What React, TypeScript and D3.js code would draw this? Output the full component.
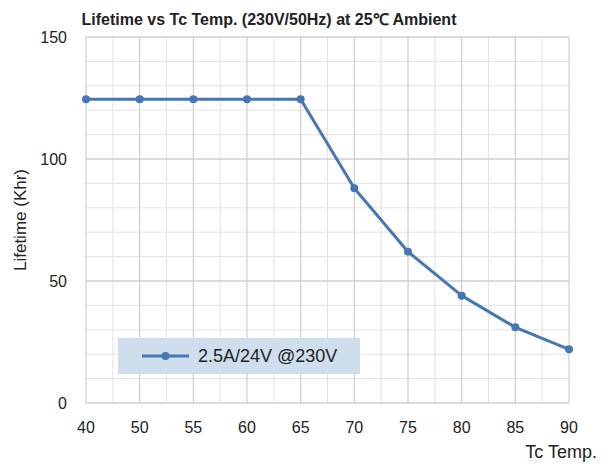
import React from "react";
import * as d3 from "d3";

const WIDTH = 608;
const HEIGHT = 464;
const MARGIN = { top: 37, right: 39, bottom: 61, left: 86 };

const temps = ["40", "50", "55", "60", "65", "70", "75", "80", "85", "90"];
const lifetime = [124.5, 124.5, 124.5, 124.5, 124.5, 88, 62, 44, 31, 22];
const yTicks = [0, 50, 100, 150];
const seriesName = "2.5A/24V @230V";

const LINE_COLOR = "#4677b3";
const FONT = "'Liberation Sans', Arial, sans-serif";

const App = () => {
  const innerW = WIDTH - MARGIN.left - MARGIN.right;
  const innerH = HEIGHT - MARGIN.top - MARGIN.bottom;

  const xScale = d3.scalePoint().domain(temps).range([0, innerW]);
  const yScale = d3.scaleLinear().domain([0, 150]).range([innerH, 0]);

  const step = xScale.step();
  const minorY = d3.range(0, 151, 10);
  const minorX = temps.slice(0, -1).map((t) => (xScale(t) ?? 0) + step / 2);

  const points = temps.map((t, i) => [xScale(t) ?? 0, yScale(lifetime[i])] as [number, number]);
  const linePath = d3.line()(points) || "";

  return (
    <svg width={WIDTH} height={HEIGHT} style={{ position: "absolute", left: 0, top: 0 }}>
      <rect width={WIDTH} height={HEIGHT} fill="#fff" />
      <text x={269} y={25} textAnchor="middle" fontFamily={FONT} fontWeight="bold" fontSize={16} fill="#222">
        Lifetime vs Tc Temp. (230V/50Hz) at 25℃ Ambient
      </text>
      <g transform={`translate(${MARGIN.left},${MARGIN.top})`}>
        {/* minor grid */}
        {minorY.map((v) => (
          <line key={"my" + v} x1={0} x2={innerW} y1={yScale(v)} y2={yScale(v)} stroke="#e3e3e3" strokeWidth={1} />
        ))}
        {minorX.map((x, i) => (
          <line key={"mx" + i} x1={x} x2={x} y1={0} y2={innerH} stroke="#e3e3e3" strokeWidth={1} />
        ))}
        {/* major grid */}
        {yTicks.map((v) => (
          <line key={"y" + v} x1={0} x2={innerW} y1={yScale(v)} y2={yScale(v)} stroke="#c6c6c6" strokeWidth={1} />
        ))}
        {temps.map((t) => (
          <line key={"x" + t} x1={xScale(t)} x2={xScale(t)} y1={0} y2={innerH} stroke="#c6c6c6" strokeWidth={1} />
        ))}
        {yTicks.map((v) => (
          <text key={"yl" + v} x={-19} y={yScale(v)} dy="0.35em" textAnchor="end" fontFamily={FONT} fontSize={16} fill="#222">
            {v}
          </text>
        ))}
        {temps.map((t) => (
          <text key={"xl" + t} x={xScale(t)} y={innerH + 30} textAnchor="middle" fontFamily={FONT} fontSize={16} fill="#222">
            {t}
          </text>
        ))}
        <path d={linePath} fill="none" stroke={LINE_COLOR} strokeWidth={3} strokeLinejoin="round" />
        {points.map((p, i) => (
          <circle key={i} cx={p[0]} cy={p[1]} r={4} fill={LINE_COLOR} />
        ))}
        {/* legend */}
        <g transform={`translate(${118 - MARGIN.left},${338 - MARGIN.top})`}>
          <rect width={242} height={36} fill="#cfdeec" />
          <line x1={24} x2={71} y1={18} y2={18} stroke={LINE_COLOR} strokeWidth={3} />
          <circle cx={47.5} cy={18} r={4} fill={LINE_COLOR} />
          <text x={80} y={18} dy="0.35em" fontFamily={FONT} fontSize={18} fill="#222">
            {seriesName}
          </text>
        </g>
      </g>
      <text transform="translate(26,220) rotate(-90)" textAnchor="middle" fontFamily={FONT} fontSize={17} fill="#222">
        Lifetime (Khr)
      </text>
      <text x={597} y={458} textAnchor="end" fontFamily={FONT} fontSize={18} fill="#222">
        Tc Temp.
      </text>
    </svg>
  );
};

export default App;
